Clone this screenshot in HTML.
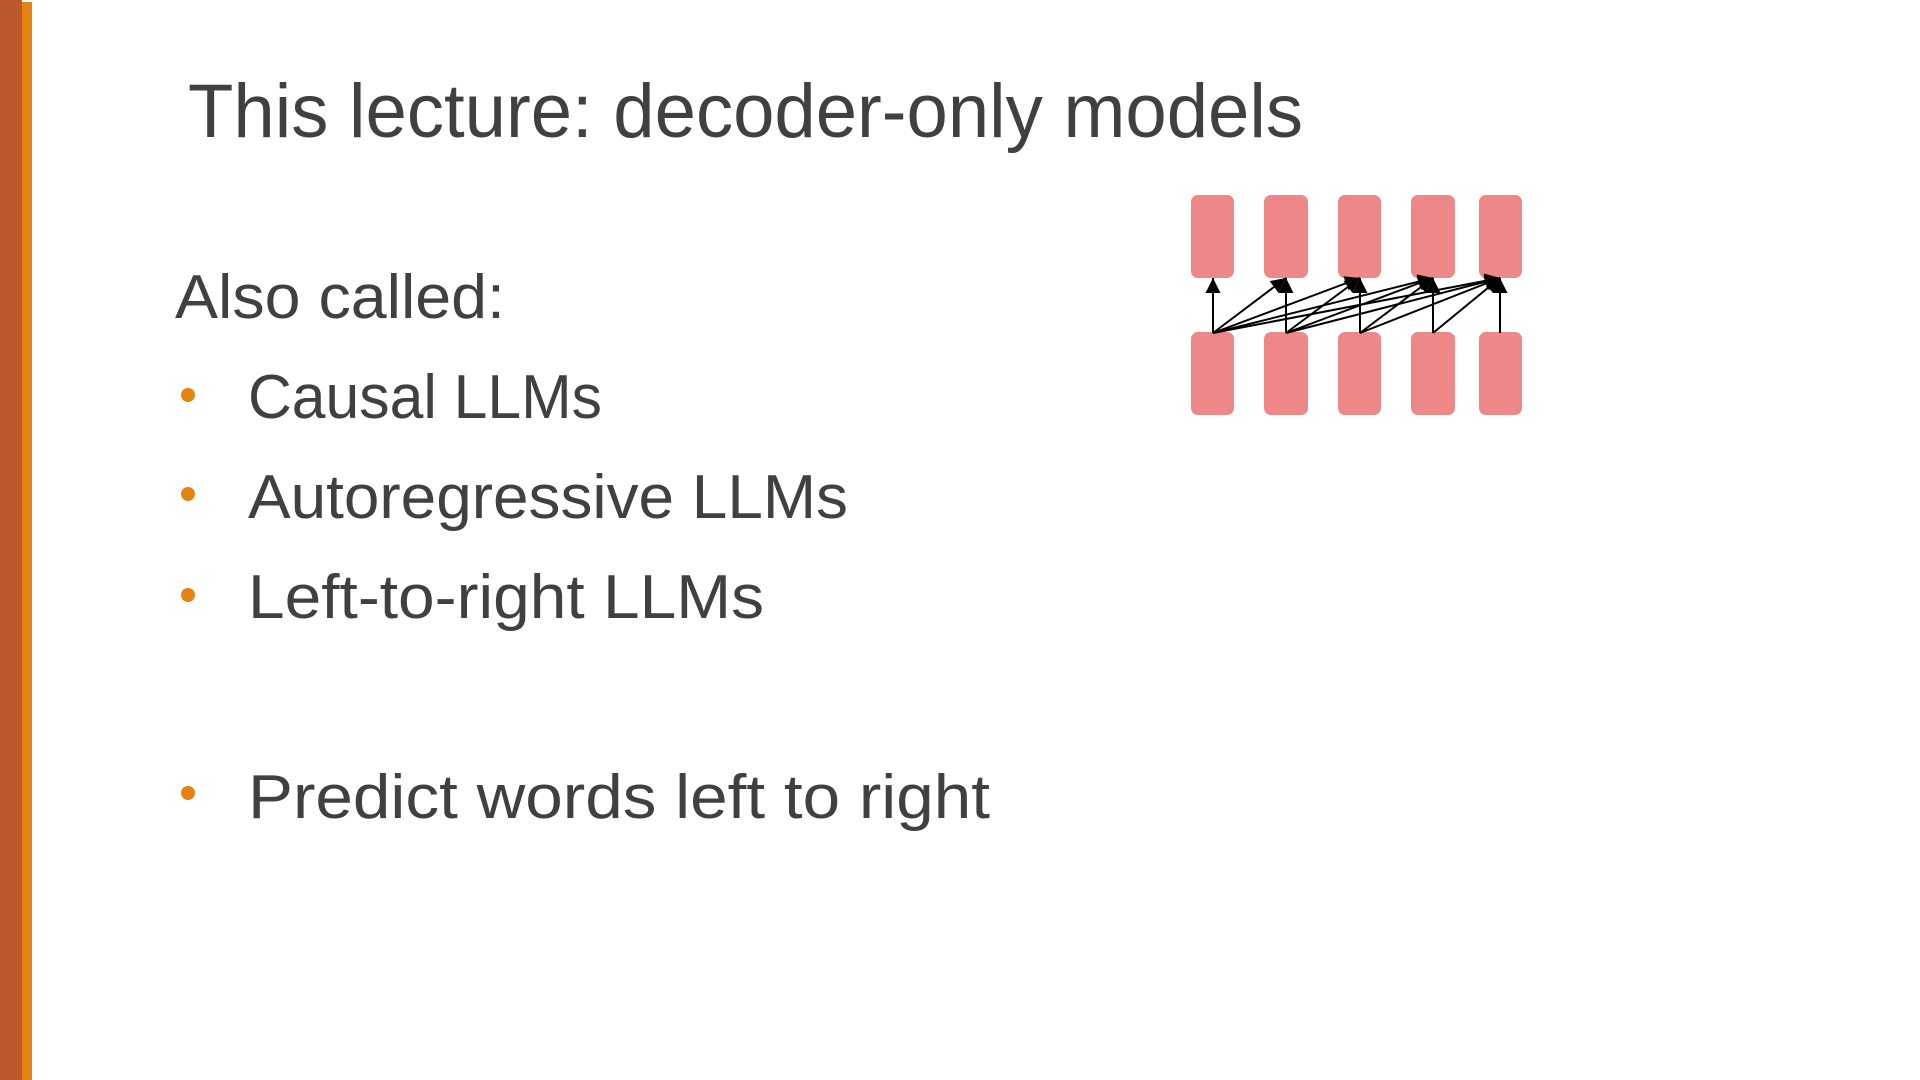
<!DOCTYPE html>
<html><head><meta charset="utf-8"><style>html,body{margin:0;padding:0;background:#fff;width:1920px;height:1080px;overflow:hidden}</style></head>
<body>
<svg width="1920" height="1080" viewBox="0 0 1920 1080" xmlns="http://www.w3.org/2000/svg">
<rect x="0" y="0" width="22" height="1080" fill="#bd582c"/>
<rect x="22" y="2" width="10" height="1078" fill="#e48312"/>
<g font-family="Liberation Sans, sans-serif" fill="#404040">
<text x="188" y="137" font-size="76" textLength="1115" lengthAdjust="spacingAndGlyphs">This lecture: decoder-only models</text>
<text x="175" y="318" font-size="62" textLength="330" lengthAdjust="spacingAndGlyphs">Also called:</text>
<text x="248" y="418" font-size="62" textLength="354" lengthAdjust="spacingAndGlyphs">Causal LLMs</text>
<text x="248" y="518" font-size="62" textLength="600" lengthAdjust="spacingAndGlyphs">Autoregressive LLMs</text>
<text x="248" y="618" font-size="62" textLength="516" lengthAdjust="spacingAndGlyphs">Left-to-right LLMs</text>
<text x="248" y="818" font-size="62" textLength="742" lengthAdjust="spacingAndGlyphs">Predict words left to right</text>
</g>
<g fill="#e48312">
<circle cx="188" cy="395" r="7"/><circle cx="188" cy="494" r="7"/><circle cx="188" cy="595" r="7"/><circle cx="188" cy="793" r="7"/>
</g>
<g fill="#ee8787">
<rect x="1191" y="195" width="43" height="83" rx="7"/>
<rect x="1264" y="195" width="44" height="83" rx="7"/>
<rect x="1338" y="195" width="43" height="83" rx="7"/>
<rect x="1411" y="195" width="44" height="83" rx="7"/>
<rect x="1479" y="195" width="43" height="83" rx="7"/>
<rect x="1191" y="332" width="43" height="83" rx="7"/>
<rect x="1264" y="332" width="44" height="83" rx="7"/>
<rect x="1338" y="332" width="43" height="83" rx="7"/>
<rect x="1411" y="332" width="44" height="83" rx="7"/>
<rect x="1479" y="332" width="43" height="83" rx="7"/>
</g>
<defs>
<marker id="b" viewBox="0 0 10 10" refX="10" refY="5" markerWidth="15" markerHeight="15" orient="auto" markerUnits="userSpaceOnUse"><path d="M0,0L10,5L0,10z" fill="#000"/></marker></defs>
<g stroke="#000" stroke-width="2" marker-end="url(#b)">
<line x1="1213" y1="333" x2="1213" y2="278"/>
<line x1="1213" y1="333" x2="1286" y2="278"/>
<line x1="1286" y1="333" x2="1286" y2="278"/>
<line x1="1213" y1="333" x2="1360" y2="278"/>
<line x1="1286" y1="333" x2="1360" y2="278"/>
<line x1="1360" y1="333" x2="1360" y2="278"/>
<line x1="1213" y1="333" x2="1433" y2="278"/>
<line x1="1286" y1="333" x2="1433" y2="278"/>
<line x1="1360" y1="333" x2="1433" y2="278"/>
<line x1="1433" y1="333" x2="1433" y2="278"/>
<line x1="1213" y1="333" x2="1500" y2="278"/>
<line x1="1286" y1="333" x2="1500" y2="278"/>
<line x1="1360" y1="333" x2="1500" y2="278"/>
<line x1="1433" y1="333" x2="1500" y2="278"/>
<line x1="1500" y1="333" x2="1500" y2="278"/>
</g>
</svg>
</body></html>
